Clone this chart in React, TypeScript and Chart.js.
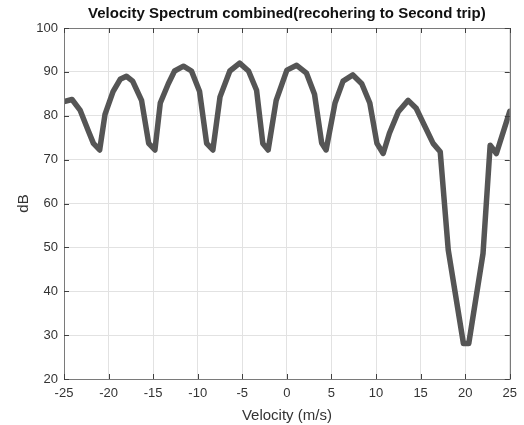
import React, { useEffect, useRef } from "react";
import { Chart, registerables } from "chart.js";

Chart.register(...registerables);

const velocity = [-25, -24.1, -23.2, -22.3, -21.7, -21.0, -20.4, -19.5, -18.7, -18.0, -17.3, -16.3, -15.5, -14.8, -14.2, -13.3, -12.6, -11.6, -10.7, -9.8, -9.0, -8.3, -7.5, -6.4, -5.3, -4.3, -3.4, -2.7, -2.1, -1.2, 0.0, 1.1, 2.2, 3.1, 3.9, 4.4, 5.4, 6.3, 7.4, 8.4, 9.3, 10.1, 10.8, 11.5, 12.5, 13.6, 14.5, 15.5, 16.4, 17.2, 18.1, 19.8, 20.4, 22.0, 22.8, 23.5, 25.0];
const dB = [83.2, 83.7, 81.3, 76.7, 73.7, 72.2, 80.3, 85.5, 88.3, 89.0, 87.9, 83.5, 73.7, 72.2, 82.9, 87.3, 90.2, 91.3, 90.2, 85.6, 73.7, 72.2, 84.3, 90.2, 92.0, 90.2, 85.8, 73.7, 72.2, 83.5, 90.4, 91.5, 89.7, 84.9, 73.8, 72.2, 82.9, 87.9, 89.3, 87.3, 82.9, 73.7, 71.4, 76.0, 80.9, 83.5, 81.7, 77.5, 73.7, 71.8, 49.4, 28.1, 28.1, 48.6, 73.3, 71.4, 81.0];

const titleText = "Velocity Spectrum combined(recohering to Second trip)";
const xLabel = "Velocity (m/s)";
const yLabel = "dB";
const xTicks = [-25, -20, -15, -10, -5, 0, 5, 10, 15, 20, 25];
const yTicks = [20, 30, 40, 50, 60, 70, 80, 90, 100];

const FONT = "'Liberation Sans', Arial, Helvetica, sans-serif";

const boxPlugin = {
  id: "matlabBox",
  afterDraw(chart: any) {
    const { ctx, chartArea } = chart;
    const { left, right, top, bottom } = chartArea;
    const xs = chart.scales.x;
    const ys = chart.scales.y;
    ctx.save();
    ctx.strokeStyle = "#7a7a7a";
    ctx.lineWidth = 1;
    ctx.beginPath();
    ctx.rect(Math.round(left) + 0.5, Math.round(top) + 0.5, Math.round(right - left), Math.round(bottom - top));
    ctx.stroke();
    ctx.strokeStyle = "#404040";
    const tl = 5;
    ctx.beginPath();
    xTicks.forEach((t) => {
      const px = Math.round(xs.getPixelForValue(t)) + 0.5;
      ctx.moveTo(px, bottom);
      ctx.lineTo(px, bottom - tl);
      ctx.moveTo(px, top);
      ctx.lineTo(px, top + tl);
    });
    yTicks.forEach((t) => {
      const py = Math.round(ys.getPixelForValue(t)) + 0.5;
      ctx.moveTo(left, py);
      ctx.lineTo(left + tl, py);
      ctx.moveTo(right, py);
      ctx.lineTo(right - tl, py);
    });
    ctx.stroke();
    // title
    ctx.fillStyle = "#111111";
    ctx.font = `bold 15px ${FONT}`;
    ctx.textAlign = "center";
    ctx.textBaseline = "middle";
    ctx.fillText(titleText, (left + right) / 2, 14);
    ctx.restore();
  },
};

export default function App() {
  const ref = useRef<HTMLCanvasElement | null>(null);
  useEffect(() => {
    document.body.style.margin = "0";
    const canvas = ref.current;
    if (!canvas) return;
    const chart = new Chart(canvas, {
      type: "line",
      data: {
        datasets: [
          {
            data: velocity.map((v, i) => ({ x: v, y: dB[i] })),
            borderColor: "#555555",
            borderWidth: 5.5,
            pointRadius: 0,
            tension: 0,
            fill: false,
            borderJoinStyle: "round",
            borderCapStyle: "round",
          },
        ],
      },
      options: {
        animation: false,
        responsive: false,
        maintainAspectRatio: false,
        layout: { padding: { top: 28, right: 14, left: 0, bottom: 0 } },
        plugins: { legend: { display: false }, tooltip: { enabled: false }, title: { display: false } },
        scales: {
          x: {
            type: "linear",
            min: -25,
            max: 25,
            afterBuildTicks(scale: any) {
              scale.ticks = xTicks.map((v) => ({ value: v }));
            },
            afterFit(scale: any) {
              scale.height = 46;
            },
            ticks: {
              color: "#333333",
              font: { family: FONT, size: 13 },
              padding: 7,
              maxRotation: 0,
              callback: (v: any) => String(v),
            },
            grid: { color: "#e2e2e2", drawTicks: false, lineWidth: 1 },
            border: { display: false },
            title: {
              display: true,
              text: xLabel,
              color: "#333333",
              font: { family: FONT, size: 15 },
              padding: { top: 4, bottom: 0 },
            },
          },
          y: {
            type: "linear",
            min: 20,
            max: 100,
            afterBuildTicks(scale: any) {
              scale.ticks = yTicks.map((v) => ({ value: v }));
            },
            afterFit(scale: any) {
              scale.width = 64;
            },
            ticks: {
              color: "#333333",
              font: { family: FONT, size: 13 },
              padding: 6,
              callback: (v: any) => String(v),
            },
            grid: { color: "#e2e2e2", drawTicks: false, lineWidth: 1 },
            border: { display: false },
            title: {
              display: true,
              text: yLabel,
              color: "#333333",
              font: { family: FONT, size: 15 },
              padding: { top: 15, bottom: 0 },
            },
          },
        },
      },
      plugins: [boxPlugin],
    });
    return () => chart.destroy();
  }, []);
  return (
    <div style={{ position: "fixed", left: 0, top: 0, width: 524, height: 425, background: "#ffffff" }}>
      <canvas ref={ref} width={524} height={425} style={{ width: 524, height: 425, display: "block" }} />
    </div>
  );
}
